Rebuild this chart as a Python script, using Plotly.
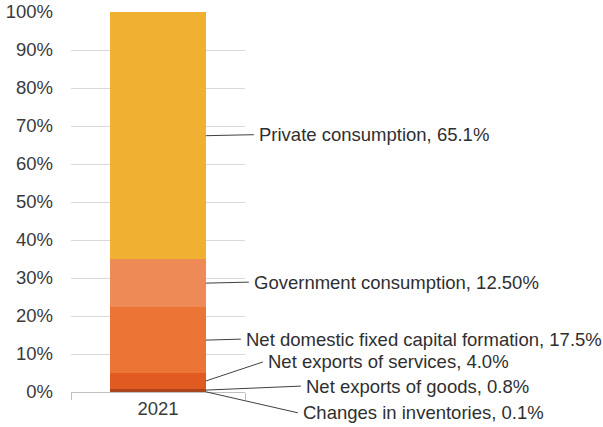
import plotly.graph_objects as go

# Composition of GDP by expenditure, 2021 (shares in %)
years = ["2021"]
components = [
    "Changes in inventories",
    "Net exports of goods",
    "Net exports of services",
    "Net domestic fixed capital formation",
    "Government consumption",
    "Private consumption",
]
shares = [0.1, 0.8, 4.0, 17.5, 12.5, 65.1]
share_labels = ["0.1%", "0.8%", "4.0%", "17.5%", "12.50%", "65.1%"]
colors = ["#7b3a1c", "#a9461d", "#e05a22", "#ec7535", "#ee8a55", "#f0b132"]

# label offsets (pixels) from each segment's midpoint at the bar's right edge
label_dx = [92, 95, 57, 35, 43, 48]
label_dy = [21, -4, -19, -1, -1, -1]

BAR_WIDTH = 0.55
FONT = "Liberation Sans, Arial, sans-serif"

fig = go.Figure()
for name, val, col in zip(components, shares, colors):
    fig.add_trace(go.Bar(
        x=years, y=[val], name=name, marker=dict(color=col, line=dict(width=0)),
        width=BAR_WIDTH, showlegend=False, hoverinfo="name+y",
    ))

annotations = []
base = 0.0
for name, val, lab, dx, dy in zip(components, shares, share_labels, label_dx, label_dy):
    mid = base + val / 2
    base += val
    annotations.append(dict(
        x=BAR_WIDTH / 2, y=mid, xref="x", yref="y",
        text=f"{name}, {lab}",
        showarrow=True, arrowhead=0, arrowwidth=1, arrowcolor="#404040",
        ax=dx, ay=dy, xanchor="left", yanchor="middle",
        borderpad=4,
        font=dict(family=FONT, size=18.5, color="#2f2f2f"),
    ))

fig.update_layout(
    width=603, height=427,
    margin=dict(l=71, r=358, t=12, b=35),
    barmode="stack",
    paper_bgcolor="white", plot_bgcolor="white",
    font=dict(family=FONT, size=18.5, color="#3a3a3a"),
    annotations=annotations,
    xaxis=dict(
        type="category", range=[-0.5, 0.5], automargin=False,
        showline=True, linecolor="#bfbfbf", linewidth=1,
        ticks="outside", tickson="boundaries", ticklen=7, tickcolor="#bfbfbf",
        showgrid=False, tickfont=dict(size=18.5, color="#3a3a3a"),
    ),
    yaxis=dict(
        range=[0, 100], dtick=10, ticksuffix="%", automargin=False,
        showgrid=True, gridcolor="#d9d9d9", gridwidth=1,
        zeroline=False, showline=False,
        ticklabelstandoff=17, tickfont=dict(size=18.5, color="#3a3a3a"),
    ),
)

fig.write_html("out.html")
